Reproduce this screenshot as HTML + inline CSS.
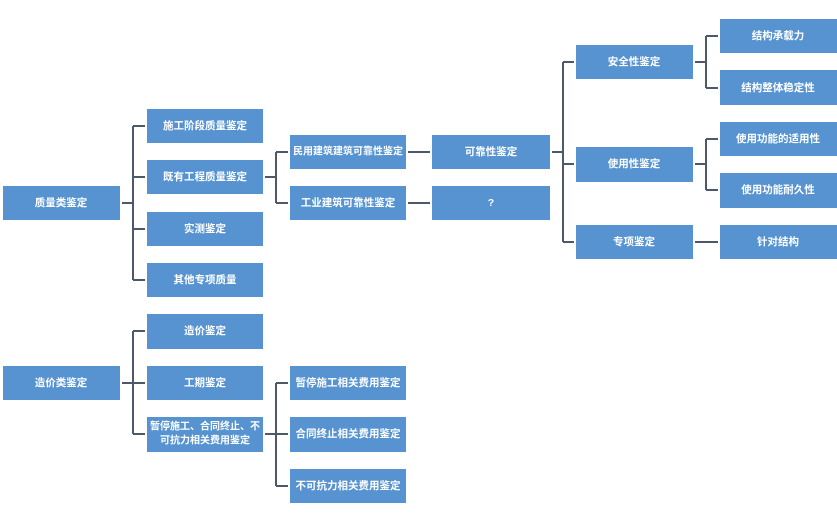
<!DOCTYPE html>
<html><head><meta charset="utf-8"><style>
html,body{margin:0;padding:0;background:#fff;}
svg{display:block}
text{font-family:"Liberation Sans","Noto Sans CJK SC",sans-serif;font-size:10.5px;font-weight:bold;fill:#fff;text-anchor:middle;dominant-baseline:central}
</style></head><body>
<svg width="837" height="514" viewBox="0 0 837 514">
<g fill="#5693d0">
<rect x="3" y="186" width="117" height="34"/>
<rect x="147" y="109" width="116" height="34"/>
<rect x="147" y="160" width="116" height="34"/>
<rect x="147" y="212" width="116" height="34"/>
<rect x="147" y="263" width="116" height="34"/>
<rect x="290" y="135" width="116" height="34"/>
<rect x="290" y="186" width="116" height="34"/>
<rect x="432" y="135" width="118" height="34"/>
<rect x="432" y="186" width="118" height="34"/>
<rect x="576" y="45" width="117" height="34"/>
<rect x="576" y="147" width="117" height="35"/>
<rect x="576" y="225" width="117" height="34"/>
<rect x="720" y="19" width="117" height="34"/>
<rect x="720" y="70" width="117" height="35"/>
<rect x="720" y="122" width="117" height="34"/>
<rect x="720" y="173" width="117" height="35"/>
<rect x="720" y="225" width="117" height="34"/>
<rect x="3" y="366" width="117" height="34"/>
<rect x="147" y="314" width="116" height="35"/>
<rect x="147" y="366" width="116" height="34"/>
<rect x="147" y="417" width="116" height="35"/>
<rect x="290" y="366" width="116" height="34"/>
<rect x="290" y="417" width="116" height="35"/>
<rect x="290" y="469" width="116" height="34"/>
</g>
<g stroke="#4d5968" stroke-width="2" fill="none">
<path d="M122 203H133M133 126V280M133 126H145M133 177H145M133 229H145M133 280H145"/>
<path d="M265 177H276M276 152V203M276 152H288M276 203H288"/>
<path d="M408 152H430M408 203H430"/>
<path d="M552 152H563M563 62V242M563 62H574M563 164H574M563 242H574"/>
<path d="M695 62H706M706 36V88M706 36H718M706 88H718"/>
<path d="M695 164H706M706 139V190M706 139H718M706 190H718"/>
<path d="M695 242H718"/>
<path d="M122 383H133M133 331V434M133 331H145M133 383H145M133 434H145"/>
<path d="M265 434H276M276 383V486M276 383H288M276 434H288M276 486H288"/>
</g>
<text x="61" y="203">质量类鉴定</text>
<text x="205" y="126">施工阶段质量鉴定</text>
<text x="205" y="177">既有工程质量鉴定</text>
<text x="205" y="229">实测鉴定</text>
<text x="205" y="280">其他专项质量</text>
<text x="348" y="152" style="font-size:10px">民用建筑建筑可靠性鉴定</text>
<text x="348" y="203">工业建筑可靠性鉴定</text>
<text x="491" y="152">可靠性鉴定</text>
<text x="491" y="203">?</text>
<text x="634" y="62">安全性鉴定</text>
<text x="634" y="164">使用性鉴定</text>
<text x="634" y="242">专项鉴定</text>
<text x="778" y="36">结构承载力</text>
<text x="778" y="88">结构整体稳定性</text>
<text x="778" y="139">使用功能的适用性</text>
<text x="778" y="190">使用功能耐久性</text>
<text x="778" y="242">针对结构</text>
<text x="61" y="383">造价类鉴定</text>
<text x="205" y="331">造价鉴定</text>
<text x="205" y="383">工期鉴定</text>
<text x="205" y="427" style="font-size:10px">暂停施工、合同终止、不</text>
<text x="205" y="441" style="font-size:10px">可抗力相关费用鉴定</text>
<text x="348" y="383">暂停施工相关费用鉴定</text>
<text x="348" y="434">合同终止相关费用鉴定</text>
<text x="348" y="486">不可抗力相关费用鉴定</text>
</svg>
</body></html>
